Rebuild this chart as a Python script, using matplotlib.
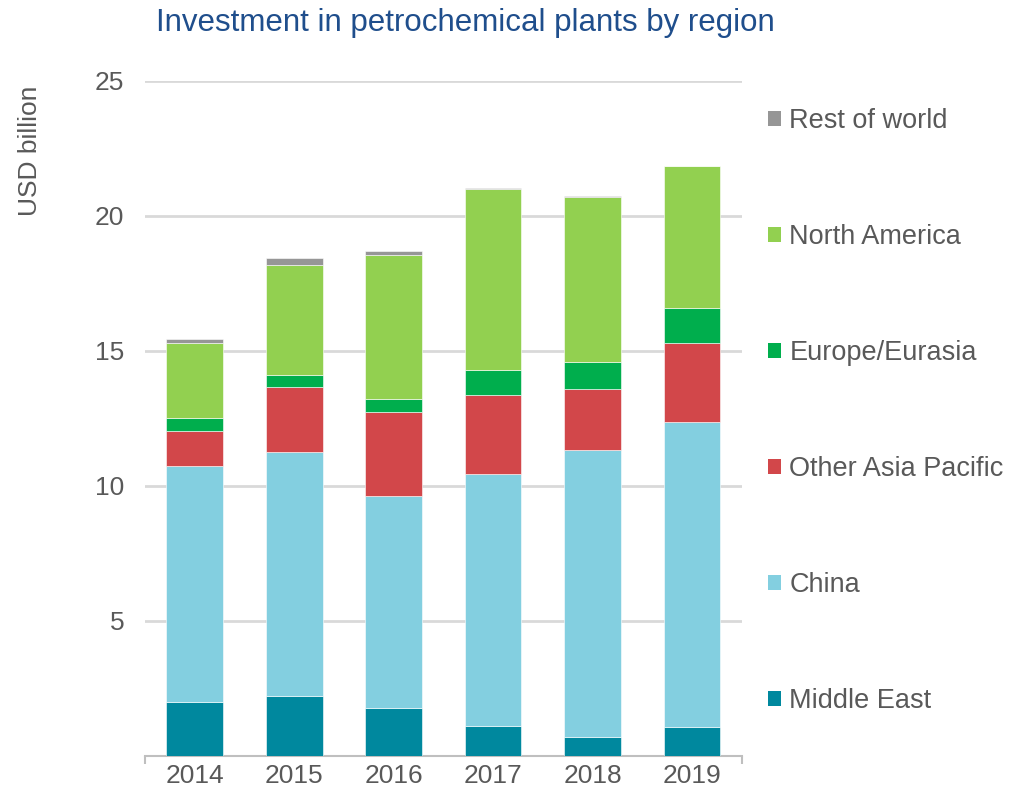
import matplotlib
matplotlib.use("Agg")
import matplotlib.pyplot as plt
from matplotlib.patches import Patch
import numpy as np

years = ["2014", "2015", "2016", "2017", "2018", "2019"]
regions = ["Middle East", "China", "Other Asia Pacific", "Europe/Eurasia",
           "North America", "Rest of world"]
middle_east = [2.01, 2.23, 1.79, 1.12, 0.71, 1.08]
china = [8.73, 9.04, 7.84, 9.32, 10.62, 11.29]
other_asia = [1.29, 2.39, 3.11, 2.93, 2.26, 2.92]
europe = [0.50, 0.46, 0.48, 0.92, 0.99, 1.31]
north_america = [2.75, 4.07, 5.34, 6.70, 6.12, 5.25]
rest_of_world = [0.16, 0.25, 0.14, 0.05, 0.05, 0.01]
colors = ["#00889e", "#83cfe0", "#d2474a", "#00ae4d", "#92d050", "#969696"]

series = [middle_east, china, other_asia, europe, north_america, rest_of_world]

plt.rcParams['font.family'] = ['Liberation Sans', 'DejaVu Sans']
grey = "#595959"

fig = plt.figure(figsize=(10.12, 7.93), dpi=100)
ax = fig.add_axes([0.1433, 0.0467, 0.5897, 0.8513])

x = np.arange(len(years))
bottom = np.zeros(len(years))
for vals, name, c in zip(series, regions, colors):
    ax.bar(x, vals, width=0.57, bottom=bottom, color=c, label=name,
           edgecolor="white", linewidth=0.4, zorder=3)
    bottom += np.array(vals)

ax.set_xlim(-0.5, 5.5)
ax.set_ylim(0, 25)
ax.set_yticks([5, 10, 15, 20, 25])
ax.yaxis.grid(True, color="#d9d9d9", linewidth=2, zorder=0)
ax.set_axisbelow(True)
ax.set_xticks(x)
ax.set_xticklabels(years)
ax.set_xticks([-0.5, 5.5], minor=True)
ax.tick_params(axis="x", which="major", length=0, pad=6, labelsize=19, labelcolor=grey)
ax.tick_params(axis="x", which="minor", length=6, width=1.5, color="#bfbfbf")
ax.tick_params(axis="y", length=0, pad=15, labelsize=19, labelcolor=grey)
for s in ["left", "right", "top"]:
    ax.spines[s].set_visible(False)
ax.spines["bottom"].set_color("#bfbfbf")
ax.spines["bottom"].set_linewidth(1.5)

fig.text(0.46, 0.971, "Investment in petrochemical plants by region",
         ha="center", va="center", fontsize=22.5, color="#1f4e8c")
fig.text(0.030, 0.81, "USD billion", rotation=90, ha="center", va="center",
         fontsize=19, color=grey)

handles = [Patch(facecolor=c) for c in colors][::-1]
leg = fig.legend(handles, regions[::-1], loc="upper left",
                 bbox_to_anchor=(0.748, 0.877), frameon=False, fontsize=19.5,
                 labelspacing=3.32, handlelength=0.5, handleheight=0.5,
                 handletextpad=0.3, borderaxespad=0)
for t in leg.get_texts():
    t.set_color(grey)

fig.savefig("out.png", dpi=100)
